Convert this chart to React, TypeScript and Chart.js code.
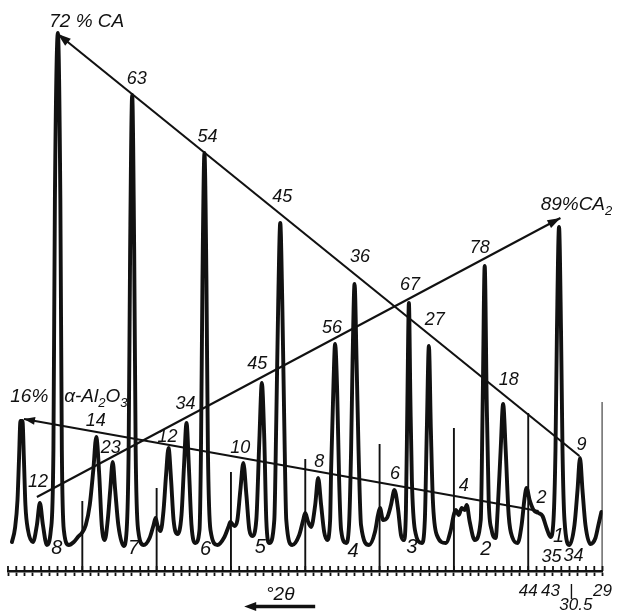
import React, { useEffect, useRef } from "react";
import { Chart, registerables } from "chart.js";

Chart.register(...registerables);

const INK = "#111111";
const FONT = '"Liberation Sans", "DejaVu Sans", sans-serif';

// Diffractometer trace: position in chart divisions (0..72) and intensity (arbitrary units)
const traceX = [
  0.48, 0.85, 1.15, 1.33, 1.51, 1.75, 1.93, 2.11, 2.42, 3.02,
  3.5, 3.86, 4.23, 4.71,
  5.19, 5.5, 5.68, 6.04, 6.34, 6.52, 6.76, 7.37, 7.97, 8.57, 8.94, 9.42,
  9.9, 10.33, 10.69, 11.05, 11.35, 11.72,
  12.08, 12.38, 12.68, 12.98, 13.36, 14.01,
  14.37, 14.61, 14.79, 15.04, 15.28, 15.46, 15.76, 16.43,
  17.15, 17.63, 17.87, 18.12, 18.48,
  18.84, 19.14, 19.44, 19.75, 20.05, 20.53,
  21.01, 21.32, 21.62, 21.92, 22.22, 22.71,
  23.19, 23.37, 23.55, 23.79, 24.03, 24.21, 24.52, 25.36,
  26.21, 26.69, 26.93, 27.42, 27.78,
  28.14, 28.5, 28.87, 29.23, 29.59,
  30.07, 30.44, 30.74, 31.04, 31.28, 31.64,
  32.25, 32.49, 32.73, 32.97, 33.21, 33.45, 33.7, 34.42,
  35.27, 35.75, 35.99, 36.35, 36.71,
  37.2, 37.56, 37.92, 38.29, 38.65,
  39.01, 39.13, 39.43, 39.61, 39.86, 40.1, 40.34, 40.94,
  41.3, 41.55, 41.73, 41.97, 42.21, 42.45, 42.75, 43.72,
  44.44, 44.81, 45.05, 45.41, 45.89,
  46.38, 46.8, 47.22, 47.59, 47.95,
  48.19, 48.37, 48.55, 48.73, 48.91, 49.28, 50.12,
  50.48, 50.72, 50.97, 51.21, 51.45, 51.93, 53.02,
  53.62, 53.98, 54.23, 54.59, 54.95, 55.31, 55.55, 55.92, 56.52,
  57.25, 57.49, 57.73, 57.97, 58.21, 58.57, 59.06,
  59.3, 59.66, 59.96, 60.27, 60.63, 61.11, 61.72,
  62.2, 62.56, 62.8, 63.17, 63.65, 64.25, 64.73, 65.22, 65.7,
  66.06, 66.3, 66.48, 66.73, 66.97, 67.15, 67.39, 68.0,
  68.6, 68.97, 69.27, 69.57, 69.93, 70.53,
  71.14, 71.5, 71.86,
];
const traceY = [
  5.8, 8.6, 14.2, 22.2, 30.0, 30.0, 22.2, 13.2, 8.2, 5.8,
  9.2, 13.6, 9.2, 5.2,
  8.2, 24.2, 74.2, 107.6, 74.2, 24.2, 8.2, 5.2, 5.8, 7.0, 7.6, 9.2,
  13.2, 20.2, 26.8, 19.2, 9.2, 6.2,
  10.2, 16.2, 21.8, 16.2, 9.2, 5.0,
  8.2, 24.2, 64.2, 95.2, 64.2, 24.2, 8.2, 5.2,
  6.6, 9.2, 10.6, 9.0, 8.0,
  12.2, 19.2, 24.6, 18.2, 10.2, 7.4,
  11.2, 21.2, 29.6, 20.2, 9.2, 5.6,
  8.2, 24.2, 58.2, 83.6, 58.2, 24.2, 8.2, 5.2,
  6.8, 8.8, 9.8, 9.0, 10.2,
  16.2, 21.6, 15.2, 8.2, 7.0,
  10.2, 26.2, 37.6, 26.2, 10.2, 5.6,
  10.2, 30.2, 54.2, 69.6, 54.2, 30.2, 10.2, 5.2,
  7.2, 10.2, 11.6, 9.8, 8.8,
  13.2, 18.6, 13.2, 7.8, 6.2,
  10.2, 20.2, 38.2, 45.4, 36.2, 18.2, 8.2, 5.6,
  9.2, 24.2, 42.2, 57.4, 42.2, 24.2, 9.2, 5.2,
  7.8, 11.2, 12.6, 10.2, 10.6,
  13.2, 16.2, 12.6, 7.2, 6.2,
  12.2, 34.2, 53.6, 34.2, 18.2, 8.2, 5.6,
  10.2, 28.2, 45.0, 28.2, 14.2, 7.2, 5.6,
  8.2, 11.2, 12.2, 11.2, 12.6, 12.2, 13.2, 9.8, 6.2,
  10.2, 34.2, 61.0, 34.2, 14.2, 8.2, 6.6,
  12.2, 24.2, 33.4, 24.2, 11.2, 6.6, 5.6,
  9.2, 14.6, 16.6, 14.2, 12.2, 11.6, 11.0, 8.6, 6.8,
  10.2, 24.2, 48.2, 68.8, 48.2, 24.2, 10.2, 5.2,
  9.2, 16.2, 22.6, 16.2, 9.2, 5.4,
  6.6, 9.2, 11.8,
];

// Sample boundary markers
const markerX = [9, 18, 27, 36, 45, 54, 63, 72];
const markerTop = [14.0, 16.6, 19.8, 22.4, 25.4, 28.6, 31.6, 33.8];

// Composition arrows
const caLineX = [6.04, 69.2];
const caLineY = [107.4, 23.0];
const ca2LineX = [3.5, 66.9];
const ca2LineY = [14.8, 70.6];
const alLineX = [1.93, 64.25];
const alLineY = [30.4, 12.0];

const caLabels = ["63", "54", "45", "36", "27", "18", "9"];
const caLabelX = [15.58, 24.15, 33.21, 42.63, 51.69, 60.63, 69.44];
const caLabelY = [98.4, 86.8, 74.8, 62.8, 50.2, 38.2, 25.2];

const ca2Labels = ["12", "23", "34", "45", "56", "67", "78"];
const ca2LabelX = [3.62, 12.44, 21.5, 30.19, 39.25, 48.67, 57.13];
const ca2LabelY = [17.8, 24.6, 33.4, 41.4, 48.6, 57.2, 64.6];

const alLabels = ["14", "12", "10", "8", "6", "4", "2"];
const alLabelX = [10.63, 19.32, 28.14, 37.68, 46.86, 55.19, 64.61];
const alLabelY = [30.0, 26.8, 24.6, 21.8, 19.4, 17.0, 14.6];

const sampleLabels = ["8", "7", "6", "5", "4", "3", "2", "1", "35", "34"];
const sampleX = [5.92, 15.22, 23.91, 30.56, 41.79, 48.91, 57.85, 66.67, 65.82, 68.48];
const sampleY = [4.6, 4.6, 4.4, 4.8, 4.0, 4.8, 4.4, 7.0, 2.8, 3.0];

// Axis labels (°2θ)
const axisLabelPos = [63, 65.7, 68.2, 72];
const axisLabelText: (string | string[])[] = ["44", "43", ["|", "  30.5"], "29"];

const zip = (xs: number[], ys: number[]) => xs.map((x, i) => ({ x, y: ys[i] }));

function arrowHead(ctx: CanvasRenderingContext2D, tx: number, ty: number, fx: number, fy: number, len: number, half: number) {
  const a = Math.atan2(ty - fy, tx - fx);
  const c = Math.cos(a), s = Math.sin(a);
  ctx.beginPath();
  ctx.moveTo(tx, ty);
  ctx.lineTo(tx - len * c + half * s, ty - len * s - half * c);
  ctx.lineTo(tx - len * c - half * s, ty - len * s + half * c);
  ctx.closePath();
  ctx.fill();
}

function drawRich(ctx: CanvasRenderingContext2D, parts: [string, boolean][], cx: number, cy: number, size: number) {
  const main = `italic ${size}px ${FONT}`;
  const sub = `italic ${Math.round(size * 0.7)}px ${FONT}`;
  let total = 0;
  const widths = parts.map(([t, isSub]) => {
    ctx.font = isSub ? sub : main;
    const w = ctx.measureText(t).width;
    total += w;
    return w;
  });
  let xp = cx - total / 2;
  ctx.textAlign = "left";
  ctx.textBaseline = "middle";
  parts.forEach(([t, isSub], i) => {
    ctx.font = isSub ? sub : main;
    ctx.fillText(t, xp, isSub ? cy + size * 0.32 : cy);
    xp += widths[i];
  });
}

const annotPlugin = {
  id: "annot",
  afterDatasetsDraw(chart: any) {
    const { ctx, chartArea } = chart;
    const xs = chart.scales.x;
    const ys = chart.scales.y;
    const px = (v: number) => xs.getPixelForValue(v);
    const py = (v: number) => ys.getPixelForValue(v);
    ctx.save();
    ctx.fillStyle = INK;
    ctx.strokeStyle = INK;

    // upper half of the axis crosses
    ctx.lineWidth = 1.8;
    xs.ticks.forEach((t: any) => {
      if (Number.isInteger(t.value)) {
        const x = px(t.value);
        ctx.beginPath();
        ctx.moveTo(x, chartArea.bottom - 5);
        ctx.lineTo(x, chartArea.bottom);
        ctx.stroke();
      }
    });

    // arrow heads
    arrowHead(ctx, px(caLineX[0]), py(caLineY[0]), px(caLineX[1]), py(caLineY[1]), 13, 4.5);
    arrowHead(ctx, px(ca2LineX[1]), py(ca2LineY[1]), px(ca2LineX[0]), py(ca2LineY[0]), 13, 4.5);
    arrowHead(ctx, px(alLineX[0]), py(alLineY[0]), px(alLineX[1]), py(alLineY[1]), 11, 4);

    // labels along the arrows
    ctx.textAlign = "center";
    ctx.textBaseline = "middle";
    ctx.font = `italic 18px ${FONT}`;
    caLabels.forEach((t, i) => ctx.fillText(t, px(caLabelX[i]), py(caLabelY[i])));
    ca2Labels.forEach((t, i) => ctx.fillText(t, px(ca2LabelX[i]), py(ca2LabelY[i])));
    alLabels.forEach((t, i) => ctx.fillText(t, px(alLabelX[i]), py(alLabelY[i])));

    sampleLabels.forEach((t, i) => {
      ctx.font = t.length > 1 ? `italic 18px ${FONT}` : `italic 20px ${FONT}`;
      ctx.fillText(t, px(sampleX[i]), py(sampleY[i]));
    });

    drawRich(ctx, [["72 % CA", false]], px(9.54), py(109.8), 19);
    drawRich(ctx, [["89%CA", false], ["2", true]], px(68.84), py(73.2), 19);
    drawRich(ctx, [["16%   α-Al", false], ["2", true], ["O", false], ["3", true]], px(7.37), py(34.8), 19);

    // °2θ with direction arrow
    drawRich(ctx, [["°2θ", false]], px(32.97), py(-4.8), 19);
    ctx.lineWidth = 3.5;
    const ax0 = px(37.2), ax1 = px(28.6), ay = py(-7.1);
    ctx.beginPath();
    ctx.moveTo(ax0, ay);
    ctx.lineTo(ax1 + 8, ay);
    ctx.stroke();
    arrowHead(ctx, ax1, ay, ax0, ay, 12, 4.5);

    ctx.restore();
  },
};

export default function App() {
  const ref = useRef<HTMLCanvasElement | null>(null);
  useEffect(() => {
    if (!ref.current) return;
    const markerData: any[] = [];
    markerX.forEach((x, i) => {
      markerData.push({ x, y: 0 }, { x, y: markerTop[i] }, { x, y: null });
    });
    const lineStyle = { borderColor: INK, pointRadius: 0, fill: false, tension: 0 };
    const chart = new Chart(ref.current, {
      type: "line",
      data: {
        datasets: [
          {
            data: zip(traceX, traceY),
            borderColor: INK,
            borderWidth: 3.9,
            pointRadius: 0,
            fill: false,
            cubicInterpolationMode: "monotone",
            borderJoinStyle: "round",
            borderCapStyle: "round",
          } as any,
          { ...lineStyle, data: markerData, borderWidth: 1.9, spanGaps: false } as any,
          { ...lineStyle, data: zip(caLineX, caLineY), borderWidth: 2.1 } as any,
          { ...lineStyle, data: zip(ca2LineX, ca2LineY), borderWidth: 2.1 } as any,
          { ...lineStyle, data: zip(alLineX, alLineY), borderWidth: 2.1 } as any,
        ],
      },
      options: {
        responsive: false,
        animation: false,
        events: [],
        layout: { padding: { left: 8, right: 16, top: 21, bottom: 0 } },
        plugins: { legend: { display: false }, tooltip: { enabled: false }, title: { display: false } },
        scales: {
          x: {
            type: "linear",
            min: 0,
            max: 72,
            afterBuildTicks: (scale: any) => {
              const vals: number[] = [];
              for (let i = 0; i <= 72; i++) vals.push(i);
              axisLabelPos.forEach((p) => {
                if (!Number.isInteger(p)) vals.push(p);
              });
              vals.sort((a, b) => a - b);
              scale.ticks = vals.map((value) => ({ value }));
            },
            afterFit: (scale: any) => {
              scale.height = 41;
            },
            grid: {
              display: true,
              drawOnChartArea: false,
              drawTicks: true,
              tickLength: 5,
              tickWidth: 1.8,
              tickColor: (c: any) => (c.tick && Number.isInteger(c.tick.value) ? INK : "rgba(0,0,0,0)"),
            },
            border: { display: true, color: INK, width: 2.6 },
            ticks: {
              autoSkip: false,
              maxRotation: 0,
              minRotation: 0,
              padding: 8,
              color: INK,
              font: { family: FONT, size: 17, style: "italic", lineHeight: "14px" },
              callback: (value: any) => {
                const i = axisLabelPos.indexOf(Number(value));
                return i >= 0 ? axisLabelText[i] : "";
              },
            },
          },
          y: { display: false, min: 0, max: 110 },
        },
      } as any,
      plugins: [annotPlugin],
    });
    return () => chart.destroy();
  }, []);
  return (
    <div style={{ position: "fixed", left: 0, top: 0, width: 620, height: 612, background: "#fff" }}>
      <canvas ref={ref} width={620} height={612} style={{ display: "block" }} />
    </div>
  );
}
